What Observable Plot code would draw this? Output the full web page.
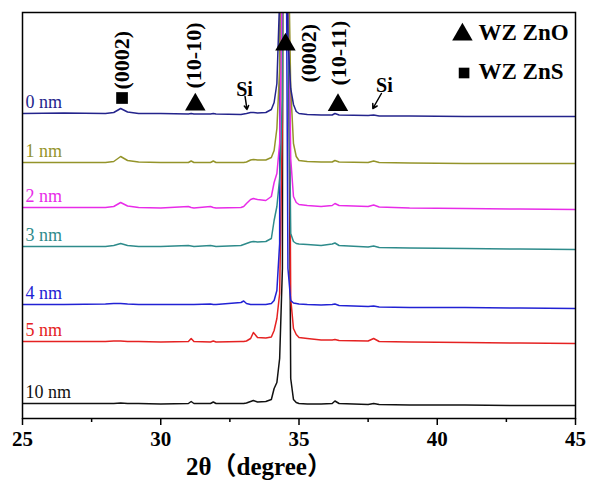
<!DOCTYPE html>
<html><head><meta charset="utf-8">
<script src="https://cdn.jsdelivr.net/npm/d3@7"></script>
<script src="https://cdn.jsdelivr.net/npm/@observablehq/plot@0.6"></script>
<style>body{margin:0;background:#fff}</style>
</head><body><div id="chart"></div>
<script>
// 2θ sample positions (degree)
const angles = [25, 26.5, 28.0, 28.3, 28.55, 28.8, 29.2, 30.0, 31.0, 31.1, 31.2, 31.8, 31.9, 32.0, 32.9, 33.0, 33.1, 33.25, 33.35, 33.5, 33.8, 34.0, 34.1, 34.2, 34.3, 34.4, 34.5, 34.6, 34.7, 34.8, 34.9, 35.0, 35.3, 35.8, 36.2, 36.3, 36.45, 37.5, 37.7, 37.9, 39, 41, 43, 45];

// offset intensities (a.u.)
const y0nm  = [305,305.5,305,306,310,306.5,305,305,304.5,305,304.5,304.5,305,304.5,304,304.5,305,306,306,305.5,306,309,316,335,420,3000,600,380,330,314,307,305,304,303.5,303.5,305,303.5,303,303.5,302.5,302.5,302,302,302];
const y1nm  = [256,256,256,257,262,258,256.5,256,256,257.5,256,256,257.5,256,256,256,256.5,258.5,259,258.5,258.5,261,268,290,350,700,3000,500,330,275,262,258,257,256.5,256.5,258,256.5,256,257.5,256,255.5,255,255,255];
const y2nm  = [211,211,211,212,216,212.5,211,210.5,212,211,210.5,212,211,210.5,211,212,215,219,220,219,218,222,236,245,275,450,2500,500,260,222,216,214,213,212,213,215,213,212,213.5,211.5,210.5,210,209.5,209];
const y3nm  = [172,172,172,173,175,173,172,172,173,172.5,172,173,172.5,172,173,174,175,176.5,177,176.5,177,180,198,212,240,320,2500,450,185,177,175,174.5,174,173,174.5,175.5,173,171.5,172.5,171,170.5,170,169.5,169];
const y4nm  = [114,114,114.5,115,115,114.5,114,114,114,114,114,114.5,114,114,116,117.5,115,114,114,114,114,115,118,128,175,2500,700,150,118,115.5,115,114.5,114,113.5,114,114.5,113,112,112.5,111.5,111,111,110.5,110];
const y5nm  = [77,77,77,77.5,77.5,77,77,76.5,77,80,77,76.5,77.5,76.5,77,77,77.5,80,86,81,80.5,81.5,88,100,125,300,2500,600,120,90,84,81,80,78.5,78.5,79,78,77.5,80,77,76.5,76,75.5,75];
const y10nm = [15,15,15,15,15.5,15,15,14.5,15,17,15,15,16.5,15,15,15,15.5,17,18,16.5,17,19,30,36,60,150,3000,500,40,19,16,15,14.5,14.5,15,17.5,15,14,15,14,13.5,13.5,13,13];

const seriesNames  = ["10 nm", "5 nm", "4 nm", "3 nm", "2 nm", "1 nm", "0 nm"];
const seriesValues = [y10nm, y5nm, y4nm, y3nm, y2nm, y1nm, y0nm];
const seriesColors = ["#111111", "#e52222", "#2222d4", "#2e8b8b", "#e82ce8", "#94942a", "#24248c"];

const xTicks = [25, 30, 35, 40, 45];
const xMinorTicks = [27.5, 32.5, 37.5, 42.5];

// annotations
const planeLabels = ["(0002)", "(10-10)", "(0002)", "(10-11)"];
const planeAngles = [28.6, 31.2, 35.35, 36.43];
const planeLevels = [329, 330, 336, 333];
const znoAngles = [31.25, 34.51, 36.41];
const znoLevels = [314, 374, 313.5];
const znsAngles = [28.6];
const znsLevels = [320.5];
const siAngles = [33.03, 38.09];
const siLevels = [329, 333];
const siArrowFrom = [[33.05, 322], [37.98, 325]];
const siArrowTo = [[33.12, 309], [37.67, 310]];
const legendLabels = ["WZ ZnO", "WZ ZnS"];
const legendAngles = [41.49, 41.49];
const legendLevels = [386, 347];
const legendSymbolAngles = [40.91, 40.97];
const legendSymbolLevels = [384, 345.5];
const axisTitle = "2θ（degree）";

const rows = seriesNames.flatMap((name, s) => angles.map((a, i) => ({angle: a, intensity: seriesValues[s][i], series: name})));
const labelRows = seriesNames.map((name, s) => ({angle: angles[0], intensity: seriesValues[s][0], series: name}));
const serif = "Liberation Serif, Times New Roman, Noto Sans CJK SC, serif";

const chart = Plot.plot({
  width: 590, height: 492,
  marginLeft: 22, marginRight: 15, marginTop: 12, marginBottom: 74,
  style: {fontFamily: serif, background: "#fff", color: "#000"},
  x: {domain: [25, 45]},
  y: {domain: [0, 406], axis: null},
  color: {domain: seriesNames, range: seriesColors},
  marks: [
    Plot.line(rows, {x: "angle", y: "intensity", z: "series", stroke: "series", strokeWidth: 1.5, clip: true}),
    Plot.text(labelRows, {x: "angle", y: "intensity", fill: "series", text: "series", textAnchor: "start", dx: 3, dy: -11, fontSize: 18, fontFamily: serif}),
    Plot.text(planeLabels, {x: (d, i) => planeAngles[i], y: (d, i) => planeLevels[i], text: d => d, rotate: -90, textAnchor: "start", fontSize: 22, fontWeight: "bold", fontFamily: serif}),
    Plot.dot(znoAngles, {x: d => d, y: (d, i) => znoLevels[i], symbol: "triangle", r: 7.6, fill: "#000", stroke: "none"}),
    Plot.dot(znsAngles, {x: d => d, y: (d, i) => znsLevels[i], symbol: "square", r: 6.6, fill: "#000", stroke: "none"}),
    Plot.text(siAngles, {x: d => d, y: (d, i) => siLevels[i], text: () => "Si", fontSize: 20, fontWeight: "bold", fontFamily: serif}),
    Plot.arrow(siArrowFrom, {x1: (d) => d[0], y1: d => d[1], x2: (d, i) => siArrowTo[i][0], y2: (d, i) => siArrowTo[i][1], stroke: "#000", strokeWidth: 1.5, headLength: 5}),
    Plot.dot([legendSymbolAngles[0]], {x: d => d, y: () => legendSymbolLevels[0], symbol: "triangle", r: 7.6, fill: "#000", stroke: "none"}),
    Plot.dot([legendSymbolAngles[1]], {x: d => d, y: () => legendSymbolLevels[1], symbol: "square", r: 6.0, fill: "#000", stroke: "none"}),
    Plot.text(legendLabels, {x: (d, i) => legendAngles[i], y: (d, i) => legendLevels[i], text: d => d, textAnchor: "start", fontSize: 23, fontWeight: "bold", fontFamily: serif}),
    Plot.frame({stroke: "#000", strokeWidth: 1.5}),
    Plot.axisX(xTicks, {tickSize: 7, tickPadding: 6, fontSize: 21, fontWeight: "bold", fontFamily: serif, strokeWidth: 1.5, label: null}),
    Plot.axisX(xMinorTicks, {tickSize: 4, tickFormat: () => "", strokeWidth: 1.5, label: null}),
    Plot.text([axisTitle], {frameAnchor: "bottom", dx: -40, dy: 56, fontSize: 25, fontWeight: "bold", fontFamily: serif})
  ]
});
document.getElementById("chart").append(chart);
</script>
</body></html>
